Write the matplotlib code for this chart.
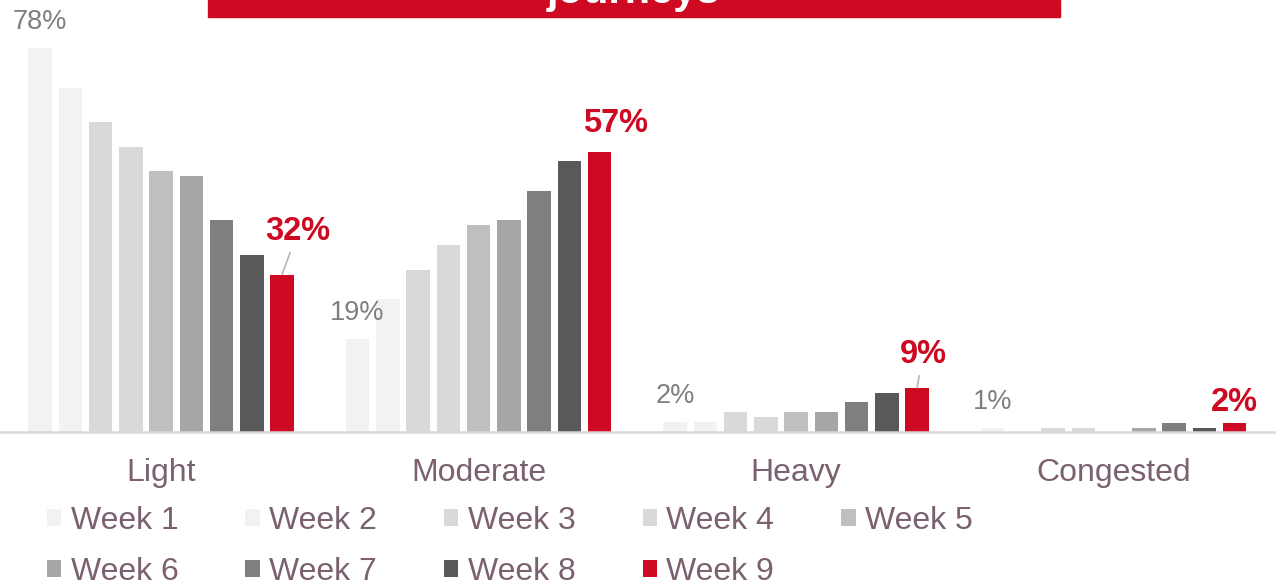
import numpy as np
import matplotlib.pyplot as plt
from matplotlib.patches import Patch, Rectangle

plt.rcParams['font.family'] = ['Liberation Sans', 'DejaVu Sans']

categories = ['Light', 'Moderate', 'Heavy', 'Congested']
weeks = ['Week 1', 'Week 2', 'Week 3', 'Week 4', 'Week 5',
         'Week 6', 'Week 7', 'Week 8', 'Week 9']

# share of journeys (%) per category, one list per week
week_1 = [78, 19, 2, 0.8]
week_2 = [70, 27, 2, 0]
week_3 = [63, 33, 4, 0.8]
week_4 = [58, 38, 3, 0.8]
week_5 = [53, 42, 4, 0]
week_6 = [52, 43, 4, 0.8]
week_7 = [43, 49, 6, 1.8]
week_8 = [36, 55, 8, 0.8]
week_9 = [32, 57, 9, 1.8]
values = [week_1, week_2, week_3, week_4, week_5, week_6, week_7, week_8, week_9]

RED = '#CD0A22'
MAUVE = '#7B6170'
colors = ['#F2F2F2', '#F2F2F2', '#D9D9D9', '#D9D9D9', '#BFBFBF',
          '#A6A6A6', '#7F7F7F', '#595959', RED]

# label offsets for the latest week (pixels), some with leader lines
red_offsets = [(16, 43), (16, 28), (6, 33), (0, 21)]
red_leader = [True, False, True, False]

fig = plt.figure(figsize=(12.76, 5.84), dpi=100)
ax = fig.add_axes([0, 152 / 584, 1, 402 / 584])

step = 30.25 / 317.5
width = 23.5 / 317.5
x = np.arange(len(categories))

for j, (vals, c) in enumerate(zip(values, colors)):
    ax.bar(x + (j - 4) * step, vals, width=width, color=c, label=weeks[j], zorder=2)

# first week labels (grey) and last week labels (red, bold)
for i in range(len(categories)):
    ax.annotate(f'{week_1[i]:.0f}%', (x[i] - 4 * step, week_1[i]),
                xytext=(0, 26), textcoords='offset pixels',
                ha='center', va='center', fontsize=19.5, color='#7F7F7F')
    dx, dy = red_offsets[i]
    arrow = dict(arrowstyle='-', color='#BFB0B7', lw=1.2, shrinkA=2, shrinkB=0) if red_leader[i] else None
    ax.annotate(f'{week_9[i]:.0f}%', (x[i] + 4 * step, week_9[i]),
                xytext=(dx, dy), textcoords='offset pixels',
                ha='center', va='center', fontsize=23.5, fontweight='bold',
                color=RED, arrowprops=arrow)

ax.set_xlim(-161 / 317.5, (1276 - 161) / 317.5)
ax.set_ylim(0, 402 / 4.92)
ax.set_xticks(x)
ax.set_xticklabels(categories, fontsize=23, color=MAUVE)
ax.tick_params(axis='x', length=0, pad=18.5)
ax.set_yticks([])
for s in ['top', 'right', 'left']:
    ax.spines[s].set_visible(False)
ax.spines['bottom'].set_color('#DDD5D9')
ax.spines['bottom'].set_linewidth(1.8)
ax.patch.set_alpha(0)

# legend reads row by row: reorder for matplotlib's column filling
ncol = 5
order = [k for c in range(ncol) for k in (c, c + ncol) if k < len(weeks)]
handles = [Patch(facecolor=colors[k], edgecolor='none') for k in order]
fig.legend(handles, [weeks[k] for k in order], loc='upper left',
           bbox_to_anchor=(47 / 1276, 0.1335), ncol=ncol, frameon=False,
           fontsize=23, labelcolor=MAUVE,
           handlelength=0.45, handleheight=0.45, handletextpad=0.29,
           columnspacing=2.1, labelspacing=0.66, borderpad=0, borderaxespad=0)

# title banner, cut off at the top
fig.patches.append(Rectangle((208 / 1276, 1 - 17 / 584), (1060 - 208) / 1276, 17 / 584,
                             transform=fig.transFigure, color=RED, zorder=0))
fig.text(634 / 1276, 1 - 3 / 584, 'journeys', ha='center', va='baseline',
         fontsize=30, fontweight='bold', color='white')

fig.savefig('out.png', dpi=100)
